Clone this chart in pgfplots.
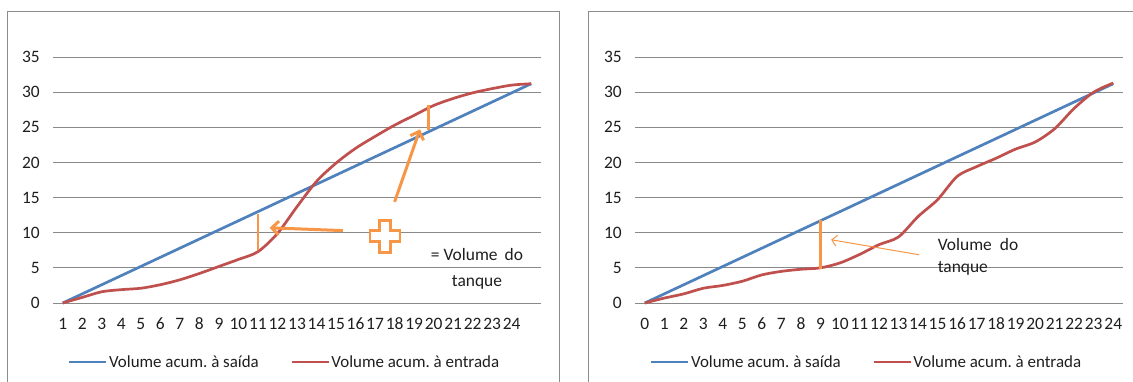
\documentclass[border=0pt]{standalone}
\usepackage{fontspec}
\setmainfont{Carlito}
\usepackage{pgfplots}
\pgfplotsset{compat=1.18}
\usetikzlibrary{arrows.meta}
\definecolor{xblue}{HTML}{4F81BD}
\definecolor{xred}{HTML}{C0504D}
\definecolor{xorange}{HTML}{F79646}
\definecolor{xgrid}{HTML}{898989}
\definecolor{xtext}{HTML}{1F1F1F}
\definecolor{xborder}{HTML}{8C8C8C}
\frenchspacing

\pgfplotsset{
 excel/.style={
  scale only axis, width=488bp, height=246bp,
  ymin=0, ymax=35, ytick={0,5,...,35},
  ymajorgrids, grid style={xgrid, line width=0.9bp},
  axis line style={draw=none}, major tick length=0pt,
  tick style={draw=none},
  /pgf/number format/assume math mode=true,
  every tick label/.append style={font=\fontsize{17.5}{20}\selectfont, text=xtext},
  yticklabel style={anchor=east, inner sep=0pt, xshift=-13bp},
  xticklabel style={anchor=base, inner sep=0pt, yshift=-27bp},
  legend columns=2,
  legend style={draw=none, fill=none, at={(0.474,-0.24)}, anchor=center,
    font=\fontsize{17}{20}\selectfont\frenchspacing, text=xtext,
    nodes={inner sep=1.5bp},
    /tikz/every even column/.append style={column sep=30bp}},
  legend image code/.code={\draw[#1, line width=2.6bp] (0bp,0bp) -- (37bp,0bp);},
  clip=false,
 }
}

\begin{document}
\frenchspacing
\begin{tikzpicture}
\useasboundingbox (0,0) rectangle (1133bp,382bp);
\fill[white] (0,0) rectangle (1133bp,382bp);
\draw[xborder, line width=1bp] (7bp,-5bp) rectangle (559bp,370bp);
\draw[xborder, line width=1bp] (588bp,-5bp) rectangle (1145bp,370bp);

% Left chart
\begin{axis}[excel, at={(53bp,79bp)}, anchor=south west,
  xmin=0.5, xmax=25.5, xtick={1,...,24}]
\addplot[xblue, line width=2.7bp] coordinates {(1,0) (25,31.2)};
\addlegendentry{Volume acum. à saída}
\addplot[xred, line width=2.7bp, smooth] coordinates {
(1,0) (2,0.8) (3,1.6) (4,1.9) (5,2.1) (6,2.6) (7,3.3) (8,4.2) (9,5.2) (10,6.2)
(11,7.3) (12,9.9) (13,13.7) (14,17.3) (15,19.9) (16,22.0) (17,23.7) (18,25.3)
(19,26.7) (20,28.1) (21,29.1) (22,29.9) (23,30.5) (24,31.0) (25,31.2)};
\addlegendentry{Volume acum. à entrada}
\draw[xorange, line width=2.8bp] (axis cs:11,7.5) -- (axis cs:11,12.6);
\draw[xorange, line width=2.8bp] (axis cs:19.75,24.6) -- (axis cs:19.75,28.1);
\draw[xorange, line width=3bp, -{Straight Barb[length=7bp,width=14bp,line width=3bp]}]
  (axis cs:15.35,10.3) -- (axis cs:11.6,10.7);
\draw[xorange, line width=3bp, -{Straight Barb[length=7bp,width=14bp,line width=3bp]}]
  (axis cs:18.0,14.4) -- (axis cs:19.3,24.7);
\coordinate (plusc) at (axis cs:17.5,9.5);
\node[anchor=base, inner sep=0pt, text=xtext, font=\fontsize{17.5}{20}\selectfont]
  at (axis cs:22.22,6.1) {= Volume\hspace{7bp}do};
\node[anchor=base, inner sep=0pt, text=xtext, font=\fontsize{17.5}{20}\selectfont]
  at (axis cs:22.22,2.3) {tanque};
\end{axis}
\draw[xorange, line width=2.6bp, fill=white, line join=miter]
  (plusc) ++(-5.5bp,-16bp) -- ++(11bp,0) -- ++(0,10.5bp) -- ++(9.5bp,0)
  -- ++(0,11bp) -- ++(-9.5bp,0) -- ++(0,10.5bp) -- ++(-11bp,0) -- ++(0,-10.5bp)
  -- ++(-9.5bp,0) -- ++(0,-11bp) -- ++(9.5bp,0) -- cycle;

% Right chart
\begin{axis}[excel, at={(635bp,79bp)}, anchor=south west,
  xmin=-0.5, xmax=24.5, xtick={0,...,24}]
\addplot[xblue, line width=2.7bp] coordinates {(0,0) (24,31.2)};
\addlegendentry{Volume acum. à saída}
\addplot[xred, line width=2.7bp, smooth] coordinates {
(0,0) (1,0.7) (2,1.3) (3,2.1) (4,2.5) (5,3.1) (6,4.0) (7,4.5) (8,4.8) (9,5.0)
(10,5.7) (11,6.9) (12,8.3) (13,9.4) (14,12.3) (15,14.7) (16,18.0) (17,19.4)
(18,20.6) (19,21.9) (20,22.9) (21,24.8) (22,27.7) (23,30.0) (24,31.3)};
\addlegendentry{Volume acum. à entrada}
\draw[xorange, line width=2.8bp] (axis cs:9,4.8) -- (axis cs:9,11.8);
\draw[xorange, line width=1bp, -{Straight Barb[length=5bp,width=11bp,line width=1bp]}]
  (axis cs:14.06,6.86) -- (axis cs:9.55,9.0);
\node[anchor=base west, inner sep=0pt, text=xtext, font=\fontsize{17.5}{20}\selectfont]
  at (axis cs:15.0,7.4) {Volume\hspace{8bp}do};
\node[anchor=base west, inner sep=0pt, text=xtext, font=\fontsize{17.5}{20}\selectfont]
  at (axis cs:15.0,4.34) {tanque};
\end{axis}
\end{tikzpicture}
\end{document}
